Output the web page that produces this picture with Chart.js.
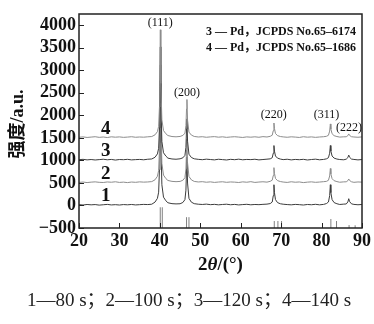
<!DOCTYPE html>
<html>
<head>
<meta charset="utf-8">
<script src="https://cdn.jsdelivr.net/npm/chart.js@4.4.0/dist/chart.umd.min.js"></script>
<style>
  html, body { margin: 0; padding: 0; background: #fff; }
  #wrap { position: relative; width: 374px; height: 324px; }
  #caption { position: absolute; left: 0; width: 378px; top: 284px; text-align: center;
    font-family: "Liberation Serif", "Noto Sans CJK SC", serif; font-size: 19px; color: #222; white-space: nowrap; }
</style>
</head>
<body>
<div id="wrap">
  <canvas id="c" width="374" height="324"></canvas>
  <div id="caption">1—80 s；2—100 s；3—120 s；4—140 s</div>
</div>
<script>
// 2θ positions shared by all four patterns
const twoTheta = [
  20,21,22,23,24,25,26,27,28,29,30,31,32,33,34,35,36,37,38,
  38.8,39.4,39.7,39.9,40.02,40.12,40.25,40.5,40.9,41.5,
  42,43,44,45,
  45.7,46.2,46.45,46.6,46.7,46.85,47.2,47.8,
  48.5,49.5,50.5,51.5,52.5,53.5,54.5,55.5,56.5,57.5,58.5,59.5,60.5,61.5,62.5,63.5,64.5,65.5,66.5,
  67.3,67.8,68.05,68.22,68.35,68.6,69.1,69.8,
  70.5,71.5,72.5,73.5,74.5,75.5,76.5,77.5,78.5,79.5,80.5,
  81.2,81.7,82.0,82.17,82.3,82.6,83.1,83.8,
  84.5,85.5,
  86.1,86.5,86.72,86.95,87.4,
  88,89,90
];
// intensities (a.u.) before vertical offset
const pattern1 = [
  18,10,22,14,20,8,16,24,12,18,10,20,15,22,12,18,24,20,28,
  75,158,295,790,1808,2770,1395,460,185,103,
  60,40,35,38,
  67,130,340,813,1075,498,157,73,
  40,28,22,30,18,25,14,22,28,16,24,12,20,26,15,22,18,25,30,
  42,77,218,460,284,130,64,38,
  28,20,14,24,18,10,22,16,26,14,24,
  42,77,218,460,284,130,64,38,
  22,30,
  33,78,150,85,36,
  24,16,22
];
const pattern2 = [
  12,20,8,18,24,14,10,22,16,26,12,18,8,20,14,24,18,22,30,
  70,148,278,746,1708,2620,1318,434,174,96,
  55,35,28,34,
  60,117,307,735,972,450,144,68,
  34,22,28,16,24,12,20,26,14,22,18,10,24,16,28,12,20,26,18,
  36,62,164,340,212,100,52,31,
  20,12,26,16,22,8,18,24,14,20,28,
  35,59,155,320,200,95,50,30,
  16,24,
  25,50,88,53,26,
  14,22,18
];
const pattern3 = [
  16,24,12,20,10,18,26,14,22,8,20,16,24,12,18,22,14,26,32,
  70,145,270,720,1645,2520,1270,420,170,95,
  50,32,26,36,
  58,112,292,697,922,427,137,65,
  36,24,16,28,20,12,26,18,10,24,16,28,14,22,18,26,12,20,28,
  35,60,160,330,206,98,51,30,
  18,26,12,22,16,24,10,20,28,14,22,
  35,60,160,330,206,98,51,30,
  20,14,
  28,63,118,68,30,
  22,12,20
];
const pattern4 = [
  14,22,10,18,26,12,20,8,24,16,22,12,18,26,14,20,16,24,30,
  68,139,258,686,1567,2400,1210,401,163,91,
  52,30,24,32,
  55,105,271,645,852,396,128,62,
  32,20,26,14,22,28,16,24,12,20,26,18,10,22,16,24,14,28,20,
  35,60,160,330,206,98,51,30,
  22,14,24,18,10,26,16,22,12,20,26,
  35,58,151,310,194,93,49,30,
  18,24,
  25,50,88,53,26,
  20,14,22
];
const offsets = [0, 500, 1000, 1500];
const curveLabels = ['1', '2', '3', '4'];
// JCPDS reference sticks (2θ, top of stick)
const stickPos = [40.1, 40.6, 46.6, 47.2, 68.3, 69.2, 70.1, 82.3, 83.7, 86.8, 88.3];
const stickTop = [-40, -40, -260, -260, -345, -345, -345, -300, -345, -435, -440];
const peakLabels = ['(111)', '(200)', '(220)', '(311)', '(222)'];
const peakLabelX = [40.1, 46.7, 68.2, 81.2, 86.8];
const peakLabelY = [4060, 2500, 2010, 2010, 1730];
const legendLines = ['3 — Pd，JCPDS No.65–6174', '4 — Pd，JCPDS No.65–1686'];
const xTicks = [20, 30, 40, 50, 60, 70, 80, 90];
const yTicks = [-500, 0, 500, 1000, 1500, 2000, 2500, 3000, 3500, 4000];

const patterns = [pattern1, pattern2, pattern3, pattern4];
const colors = ['#3c3c3c', '#8c8c8c', '#3c3c3c', '#8c8c8c'];

const datasets = patterns.map((p, i) => ({
  label: curveLabels[i],
  data: twoTheta.map((x, k) => ({ x: x, y: p[k] + offsets[i] })),
  borderColor: colors[i],
  borderWidth: 1,
  pointRadius: 0,
  tension: 0,
  fill: false,
  order: 4 - i
}));
const stickData = [];
stickPos.forEach((x, i) => {
  stickData.push({ x: x, y: -500 });
  stickData.push({ x: x, y: stickTop[i] });
  stickData.push({ x: x, y: null });
});
datasets.push({
  label: 'sticks',
  data: stickData,
  borderColor: '#808080',
  borderWidth: 1,
  pointRadius: 0,
  spanGaps: false,
  order: 0
});

const serif = '"Liberation Serif", "DejaVu Serif", serif';

const decor = {
  id: 'decor',
  afterDraw(chart) {
    const ctx = chart.ctx;
    const a = chart.chartArea;
    const xs = chart.scales.x, ys = chart.scales.y;
    ctx.save();
    // inward ticks
    ctx.strokeStyle = '#222';
    ctx.lineWidth = 1;
    ctx.beginPath();
    xTicks.forEach(v => {
      const px = Math.round(xs.getPixelForValue(v)) + 0.5;
      ctx.moveTo(px, a.bottom); ctx.lineTo(px, a.bottom - 5);
    });
    yTicks.forEach(v => {
      const py = Math.round(ys.getPixelForValue(v)) + 0.5;
      ctx.moveTo(a.left, py); ctx.lineTo(a.left + 5, py);
    });
    ctx.stroke();
    // frame
    ctx.lineWidth = 1.5;
    ctx.strokeStyle = '#222';
    ctx.strokeRect(a.left, a.top, a.right - a.left, a.bottom - a.top);
    // peak labels
    ctx.fillStyle = '#111';
    ctx.font = '12px ' + serif;
    ctx.textAlign = 'center';
    ctx.textBaseline = 'middle';
    peakLabels.forEach((t, i) => {
      ctx.fillText(t, xs.getPixelForValue(peakLabelX[i]), ys.getPixelForValue(peakLabelY[i]));
    });
    // curve numbers
    ctx.font = 'bold 19px ' + serif;
    curveLabels.forEach((t, i) => {
      ctx.fillText(t, xs.getPixelForValue(26.6), ys.getPixelForValue(offsets[i] + 200));
    });
    // legend lines
    ctx.font = 'bold 12px ' + serif + ', "Noto Sans CJK SC"';
    ctx.textAlign = 'right';
    ctx.fillText(legendLines[0], a.right - 6, a.top + 18);
    ctx.fillText(legendLines[1], a.right - 6, a.top + 34);
    // x title
    ctx.textAlign = 'left';
    const p1 = '2', p2 = 'θ', p3 = '/(°)';
    ctx.font = 'bold 19px ' + serif;
    const w1 = ctx.measureText(p1).width, w3 = ctx.measureText(p3).width;
    ctx.font = 'bold italic 19px ' + serif;
    const w2 = ctx.measureText(p2).width;
    let x0 = (a.left + a.right) / 2 - (w1 + w2 + w3) / 2;
    const ty = 265;
    ctx.font = 'bold 19px ' + serif; ctx.fillText(p1, x0, ty);
    ctx.font = 'bold italic 19px ' + serif; ctx.fillText(p2, x0 + w1, ty);
    ctx.font = 'bold 19px ' + serif; ctx.fillText(p3, x0 + w1 + w2, ty);
    // y title
    ctx.translate(18, 124);
    ctx.rotate(-Math.PI / 2);
    ctx.textAlign = 'center';
    ctx.font = 'bold 18px ' + serif + ', "Noto Sans CJK SC"';
    ctx.fillText('强度/a.u.', 0, 0);
    ctx.restore();
  }
};

new Chart(document.getElementById('c'), {
  type: 'line',
  data: { datasets: datasets },
  options: {
    responsive: false,
    animation: false,
    events: [],
    layout: { padding: { left: 0, top: 14, right: 11, bottom: 56 } },
    plugins: { legend: { display: false }, tooltip: { enabled: false }, title: { display: false } },
    scales: {
      x: {
        type: 'linear', min: 20, max: 90,
        afterBuildTicks(s) { s.ticks = xTicks.map(v => ({ value: v })); },
        ticks: { autoSkip: false, color: '#111', padding: 3, font: { family: serif, size: 18, weight: 'bold' }, maxRotation: 0 },
        grid: { display: false, drawTicks: false },
        border: { display: false },
        afterFit(s) { s.height = 40; }
      },
      y: {
        type: 'linear', min: -500, max: 4250,
        afterBuildTicks(s) { s.ticks = yTicks.map(v => ({ value: v })); },
        ticks: { autoSkip: false, color: '#111', padding: 3,
          font: { family: serif, size: 18, weight: 'bold' },
          callback: v => String(v).replace('-', '−') },
        grid: { display: false, drawTicks: false },
        border: { display: false },
        afterFit(s) { s.width = 79; }
      }
    }
  },
  plugins: [decor]
});
</script>
</body>
</html>
